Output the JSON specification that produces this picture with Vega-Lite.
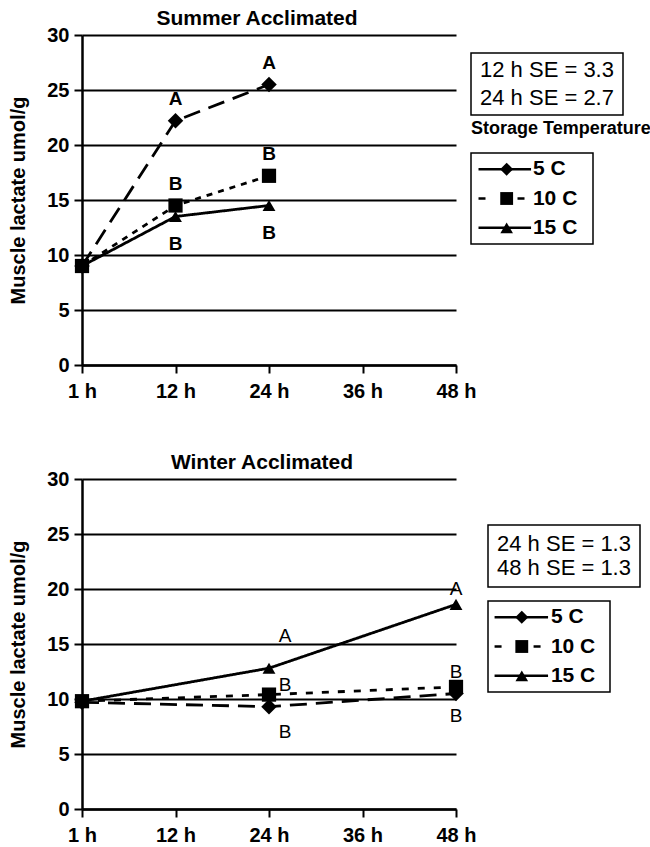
{
  "$schema": "https://vega.github.io/schema/vega-lite/v6.json",
  "padding": {"left": 8, "top": 8, "right": 2, "bottom": 0},
  "config": {
    "font": "Liberation Sans",
    "view": {"stroke": null},
    "title": {"fontSize": 21, "fontWeight": "bold", "color": "black", "baseline": "alphabetic", "offset": -4, "anchor": "middle"},
    "axis": {"domainColor": "black", "domainWidth": 2.5, "tickColor": "black", "tickWidth": 2, "tickSize": 8, "labelColor": "black", "labelFontSize": 20, "labelFontWeight": "bold", "titleColor": "black", "titleFontSize": 20, "titleFontWeight": "bold"},
    "axisY": {"gridColor": "black", "gridWidth": 2, "gridOpacity": 1, "labelPadding": 5, "titlePadding": 18},
    "axisX": {"grid": false, "labelPadding": 8, "labelAngle": 0}
  },
  "datasets": {
    "summer": [
      {"time": "1 h", "series": "5 C", "lactate": 9.0, "letter": null},
      {"time": "12 h", "series": "5 C", "lactate": 22.2, "letter": "A"},
      {"time": "24 h", "series": "5 C", "lactate": 25.5, "letter": "A"},
      {"time": "1 h", "series": "15 C", "lactate": 9.0, "letter": null},
      {"time": "12 h", "series": "15 C", "lactate": 13.5, "letter": "B"},
      {"time": "24 h", "series": "15 C", "lactate": 14.5, "letter": "B"},
      {"time": "1 h", "series": "10 C", "lactate": 9.0, "letter": null},
      {"time": "12 h", "series": "10 C", "lactate": 14.5, "letter": "B"},
      {"time": "24 h", "series": "10 C", "lactate": 17.2, "letter": "B"}
    ],
    "winter": [
      {"time": "1 h", "series": "5 C", "lactate": 9.7, "letter": null},
      {"time": "24 h", "series": "5 C", "lactate": 9.3, "letter": "B"},
      {"time": "48 h", "series": "5 C", "lactate": 10.5, "letter": "B"},
      {"time": "1 h", "series": "15 C", "lactate": 9.8, "letter": null},
      {"time": "24 h", "series": "15 C", "lactate": 12.8, "letter": "A"},
      {"time": "48 h", "series": "15 C", "lactate": 18.6, "letter": "A"},
      {"time": "1 h", "series": "10 C", "lactate": 9.8, "letter": null},
      {"time": "24 h", "series": "10 C", "lactate": 10.4, "letter": "B"},
      {"time": "48 h", "series": "10 C", "lactate": 11.1, "letter": "B"}
    ],
    "legend": [{"series": "5 C"}, {"series": "10 C"}, {"series": "15 C"}],
    "se_summer": [{"line": 1, "label": "12 h SE = 3.3"}, {"line": 2, "label": "24 h SE = 2.7"}],
    "se_winter": [{"line": 1, "label": "24 h SE = 1.3"}, {"line": 2, "label": "48 h SE = 1.3"}]
  },
  "resolve": {"scale": {"strokeDash": "independent", "shape": "independent", "size": "independent"}},
  "spacing": 51,
  "vconcat": [
    {
      "resolve": {"scale": {"strokeDash": "independent", "shape": "independent", "size": "independent"}},
      "bounds": "flush",
      "spacing": 15,
      "hconcat": [
        {
          "width": 374, "height": 330,
          "title": {"text": "Summer Acclimated", "dx": -12},
          "data": {"name": "summer"},
          "encoding": {
            "x": {"field": "time", "type": "ordinal", "scale": {"type": "point", "padding": 0, "domain": ["1 h", "12 h", "24 h", "36 h", "48 h"]}, "axis": {"title": null}},
            "y": {"field": "lactate", "type": "quantitative", "scale": {"domain": [0, 30]}, "axis": {"title": "Muscle lactate umol/g", "values": [0, 5, 10, 15, 20, 25, 30]}}
          },
          "layer": [
            {"mark": {"type": "line", "color": "black", "strokeWidth": 2.8},
             "encoding": {"strokeDash": {"field": "series", "type": "nominal", "scale": {"domain": ["5 C", "10 C", "15 C"], "range": [[17, 9], [6, 6], [1, 0]]}, "legend": null}}},
            {"mark": {"type": "point", "filled": true, "color": "black", "opacity": 1},
             "encoding": {
               "shape": {"field": "series", "type": "nominal", "scale": {"domain": ["5 C", "10 C", "15 C"], "range": ["diamond", "square", "triangle-up"]}, "legend": null},
               "size": {"field": "series", "type": "nominal", "scale": {"domain": ["5 C", "10 C", "15 C"], "range": [240, 165, 175]}, "legend": null}}},
            {"transform": [{"filter": "datum.letter && datum.series != '15 C'"}],
             "mark": {"type": "text", "fontSize": 19, "fontWeight": "bold", "color": "black", "dy": -22},
             "encoding": {"text": {"field": "letter"}}},
            {"transform": [{"filter": "datum.letter && datum.series == '15 C'"}],
             "mark": {"type": "text", "fontSize": 19, "fontWeight": "bold", "color": "black", "dy": 27},
             "encoding": {"text": {"field": "letter"}}}
          ]
        },
        {
          "spacing": 3,
          "vconcat": [
            {"width": 1, "height": 14, "data": {"values": []}, "mark": "point"},
            {
              "width": 152, "height": 62,
              "view": {"stroke": "black", "strokeWidth": 1.5},
              "data": {"name": "se_summer"},
              "mark": {"type": "text", "fontSize": 22, "align": "center", "baseline": "middle", "color": "black"},
              "encoding": {
                "y": {"field": "line", "type": "ordinal", "scale": {"type": "point", "padding": 0.6}, "axis": null},
                "x": {"datum": 0.5, "type": "quantitative", "scale": {"domain": [0, 1]}, "axis": null},
                "text": {"field": "label"}
              }
            },
            {
              "width": 122, "height": 91,
              "title": {"text": "Storage Temperature", "anchor": "start", "fontSize": 18, "offset": 15},
              "view": {"stroke": "black", "strokeWidth": 1.5},
              "data": {"name": "legend"},
              "encoding": {"y": {"field": "series", "type": "ordinal", "scale": {"type": "point", "padding": 0.55, "domain": ["5 C", "10 C", "15 C"]}, "axis": null}},
              "layer": [
                {"mark": {"type": "rule", "color": "black", "strokeWidth": 2.5},
                 "encoding": {"x": {"datum": 8, "type": "quantitative", "scale": {"domain": [0, 122]}, "axis": null}, "x2": {"datum": 64},
                   "strokeDash": {"field": "series", "type": "nominal", "scale": {"domain": ["5 C", "10 C", "15 C"], "range": [[1, 0], [7, 32], [1, 0]]}, "legend": null}}},
                {"mark": {"type": "point", "filled": true, "color": "black", "opacity": 1},
                 "encoding": {"x": {"datum": 38, "type": "quantitative"},
                   "shape": {"field": "series", "type": "nominal", "scale": {"domain": ["5 C", "10 C", "15 C"], "range": ["diamond", "square", "triangle-up"]}, "legend": null},
                   "size": {"field": "series", "type": "nominal", "scale": {"domain": ["5 C", "10 C", "15 C"], "range": [170, 160, 170]}, "legend": null}}},
                {"mark": {"type": "text", "align": "left", "baseline": "middle", "fontSize": 21, "fontWeight": "bold", "color": "black"},
                 "encoding": {"x": {"datum": 66, "type": "quantitative"}, "text": {"field": "series"}}}
              ]
            }
          ]
        }
      ]
    },
    {
      "resolve": {"scale": {"strokeDash": "independent", "shape": "independent", "size": "independent"}},
      "spacing": 10,
      "hconcat": [
        {
          "width": 374, "height": 330,
          "title": {"text": "Winter Acclimated", "dx": -7},
          "data": {"name": "winter"},
          "encoding": {
            "x": {"field": "time", "type": "ordinal", "scale": {"type": "point", "padding": 0, "domain": ["1 h", "12 h", "24 h", "36 h", "48 h"]}, "axis": {"title": null}},
            "y": {"field": "lactate", "type": "quantitative", "scale": {"domain": [0, 30]}, "axis": {"title": "Muscle lactate umol/g", "values": [0, 5, 10, 15, 20, 25, 30]}}
          },
          "layer": [
            {"mark": {"type": "line", "color": "black", "strokeWidth": 2.8},
             "encoding": {"strokeDash": {"field": "series", "type": "nominal", "scale": {"domain": ["5 C", "10 C", "15 C"], "range": [[17, 9], [7, 9], [1, 0]]}, "legend": null}}},
            {"mark": {"type": "point", "filled": true, "color": "black", "opacity": 1},
             "encoding": {
               "shape": {"field": "series", "type": "nominal", "scale": {"domain": ["5 C", "10 C", "15 C"], "range": ["diamond", "square", "triangle-up"]}, "legend": null},
               "size": {"field": "series", "type": "nominal", "scale": {"domain": ["5 C", "10 C", "15 C"], "range": [240, 165, 175]}, "legend": null}}},
            {"transform": [{"filter": "datum.time == '24 h' && datum.series == '15 C'"}],
             "mark": {"type": "text", "fontSize": 19, "color": "black", "dx": 16, "dy": -32},
             "encoding": {"text": {"field": "letter"}}},
            {"transform": [{"filter": "datum.time == '24 h' && datum.series == '10 C'"}],
             "mark": {"type": "text", "fontSize": 19, "color": "black", "dx": 16, "dy": -10},
             "encoding": {"text": {"field": "letter"}}},
            {"transform": [{"filter": "datum.time == '24 h' && datum.series == '5 C'"}],
             "mark": {"type": "text", "fontSize": 19, "color": "black", "dx": 16, "dy": 25},
             "encoding": {"text": {"field": "letter"}}},
            {"transform": [{"filter": "datum.time == '48 h' && datum.series != '5 C'"}],
             "mark": {"type": "text", "fontSize": 19, "color": "black", "dy": -15},
             "encoding": {"text": {"field": "letter"}}},
            {"transform": [{"filter": "datum.time == '48 h' && datum.series == '5 C'"}],
             "mark": {"type": "text", "fontSize": 19, "color": "black", "dy": 22},
             "encoding": {"text": {"field": "letter"}}}
          ]
        },
        {
          "spacing": 12,
          "vconcat": [
            {"width": 1, "height": 33, "data": {"values": []}, "mark": "point"},
            {
              "width": 152, "height": 62,
              "view": {"stroke": "black", "strokeWidth": 1.5},
              "data": {"name": "se_winter"},
              "mark": {"type": "text", "fontSize": 22, "align": "center", "baseline": "middle", "color": "black"},
              "encoding": {
                "y": {"field": "line", "type": "ordinal", "scale": {"type": "point", "padding": 0.8}, "axis": null},
                "x": {"datum": 0.5, "type": "quantitative", "scale": {"domain": [0, 1]}, "axis": null},
                "text": {"field": "label"}
              }
            },
            {
              "width": 122, "height": 91,
              "view": {"stroke": "black", "strokeWidth": 1.5},
              "data": {"name": "legend"},
              "encoding": {"y": {"field": "series", "type": "ordinal", "scale": {"type": "point", "padding": 0.55, "domain": ["5 C", "10 C", "15 C"]}, "axis": null}},
              "layer": [
                {"mark": {"type": "rule", "color": "black", "strokeWidth": 2.5},
                 "encoding": {"x": {"datum": 7, "type": "quantitative", "scale": {"domain": [0, 122]}, "axis": null}, "x2": {"datum": 64},
                   "strokeDash": {"field": "series", "type": "nominal", "scale": {"domain": ["5 C", "10 C", "15 C"], "range": [[1, 0], [7, 32], [1, 0]]}, "legend": null}}},
                {"mark": {"type": "point", "filled": true, "color": "black", "opacity": 1},
                 "encoding": {"x": {"datum": 36, "type": "quantitative"},
                   "shape": {"field": "series", "type": "nominal", "scale": {"domain": ["5 C", "10 C", "15 C"], "range": ["diamond", "square", "triangle-up"]}, "legend": null},
                   "size": {"field": "series", "type": "nominal", "scale": {"domain": ["5 C", "10 C", "15 C"], "range": [170, 160, 170]}, "legend": null}}},
                {"mark": {"type": "text", "align": "left", "baseline": "middle", "fontSize": 21, "fontWeight": "bold", "color": "black"},
                 "encoding": {"x": {"datum": 67, "type": "quantitative"}, "text": {"field": "series"}}}
              ]
            }
          ]
        }
      ]
    }
  ]
}
